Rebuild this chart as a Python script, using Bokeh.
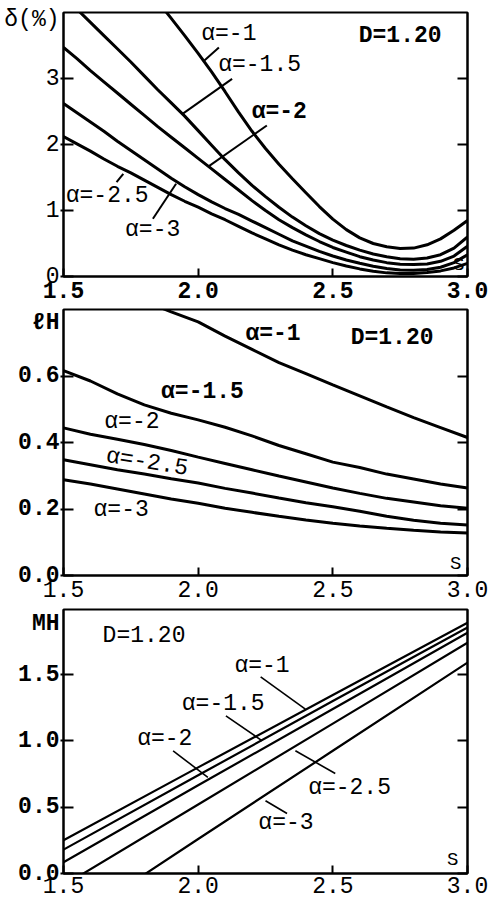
from bokeh.plotting import figure
from bokeh.layouts import column
from bokeh.models import (LinearAxis, FixedTicker, PrintfTickFormatter,
                          CustomJSTickFormatter, Range1d)
from bokeh.core.properties import value
from bokeh.embed import file_html
from bokeh.resources import INLINE

# ---------------- data ----------------
alphas = ["α=-1", "α=-1.5", "α=-2", "α=-2.5", "α=-3"]
x_ticks = [1.5, 2.0, 2.5, 3.0]

# panel 1: delta (%)  (s step 0.05)
s_fine = [1.50, 1.55, 1.60, 1.65, 1.70, 1.75, 1.80, 1.85, 1.90, 1.95, 2.00,
          2.05, 2.10, 2.15, 2.20, 2.25, 2.30, 2.35, 2.40, 2.45, 2.50,
          2.55, 2.60, 2.65, 2.70, 2.75, 2.80, 2.85, 2.90, 2.95, 3.00]
delta_a1 = [5.90, 5.65, 5.40, 5.15, 4.90, 4.66, 4.42, 4.17, 3.91, 3.65, 3.38,
            3.10, 2.80, 2.49, 2.20, 1.94, 1.70, 1.48, 1.27, 1.06, 0.87,
            0.71, 0.585, 0.50, 0.45, 0.425, 0.43, 0.48, 0.57, 0.70, 0.85]
delta_a15 = [4.25, 4.05, 3.85, 3.65, 3.45, 3.25, 3.04, 2.83, 2.63, 2.43, 2.21,
             1.99, 1.77, 1.57, 1.38, 1.21, 1.05, 0.90, 0.77, 0.65, 0.55,
             0.47, 0.40, 0.34, 0.30, 0.27, 0.26, 0.28, 0.33, 0.43, 0.60]
delta_a2 = [3.47, 3.30, 3.12, 2.95, 2.78, 2.61, 2.44, 2.27, 2.11, 1.95, 1.79,
            1.63, 1.47, 1.31, 1.15, 1.00, 0.86, 0.74, 0.63, 0.53, 0.44,
            0.37, 0.30, 0.25, 0.21, 0.185, 0.18, 0.19, 0.23, 0.31, 0.46]
delta_a25 = [2.62, 2.48, 2.34, 2.20, 2.05, 1.91, 1.77, 1.63, 1.49, 1.36, 1.24,
             1.13, 1.03, 0.94, 0.84, 0.74, 0.64, 0.54, 0.46, 0.38, 0.31,
             0.25, 0.20, 0.155, 0.12, 0.10, 0.095, 0.105, 0.14, 0.21, 0.33]
delta_a3 = [2.12, 2.01, 1.90, 1.78, 1.67, 1.57, 1.46, 1.35, 1.24, 1.14, 1.05,
            0.95, 0.86, 0.76, 0.66, 0.57, 0.48, 0.40, 0.33, 0.27, 0.21,
            0.16, 0.115, 0.08, 0.055, 0.045, 0.045, 0.06, 0.085, 0.13, 0.20]
delta_ticks = [0, 1, 2, 3]
delta_labels = ["0", "1", "2", "3"]
delta_name = "δ(%)"

# panel 2: l_H  (s step 0.1)
s_grid = [1.5, 1.6, 1.7, 1.8, 1.9, 2.0, 2.1, 2.2, 2.3, 2.4, 2.5, 2.6, 2.7, 2.8, 2.9, 3.0]
lh_a1 = [0.92, 0.89, 0.855, 0.825, 0.793, 0.763, 0.72, 0.68, 0.64, 0.607, 0.573, 0.54, 0.507, 0.475, 0.445, 0.415]
lh_a15 = [0.616, 0.585, 0.546, 0.513, 0.488, 0.468, 0.446, 0.42, 0.391, 0.366, 0.341, 0.325, 0.305, 0.29, 0.275, 0.263]
lh_a2 = [0.444, 0.425, 0.41, 0.394, 0.376, 0.356, 0.337, 0.318, 0.299, 0.281, 0.263, 0.247, 0.232, 0.221, 0.21, 0.202]
lh_a25 = [0.348, 0.333, 0.318, 0.305, 0.291, 0.278, 0.262, 0.248, 0.233, 0.219, 0.207, 0.193, 0.178, 0.166, 0.157, 0.152]
lh_a3 = [0.288, 0.275, 0.26, 0.245, 0.23, 0.217, 0.202, 0.19, 0.178, 0.167, 0.157, 0.149, 0.142, 0.136, 0.131, 0.128]
lh_ticks = [0.0, 0.2, 0.4, 0.6]
lh_labels = ["0.0", "0.2", "0.4", "0.6"]
lh_name = "ℓH"

# panel 3: M_H
s_m = [1.5, 2.0, 2.5, 3.0]
mh_a1 = [0.25, 0.80, 1.345, 1.89]
mh_a15 = [0.18, 0.74, 1.30, 1.855]
mh_a2 = [0.085, 0.665, 1.24, 1.815]
mh_a25 = [-0.09, 0.52, 1.13, 1.74]
mh_a3 = [-0.41, 0.26, 0.925, 1.59]
mh_ticks = [0.0, 0.5, 1.0, 1.5]
mh_labels = ["0.0", "0.5", "1.0", "1.5"]
mh_name = "MH"

# annotation placements (data coords)
p1_name_y = 3.89
p1_lab_x = [2.114, 2.228, 2.301, 1.662, 1.831]
p1_lab_y = [3.68, 3.20, 2.485, 1.227, 0.712]
p1_lead = dict(x0=[2.077, 2.126, 2.255, 1.722, 1.832], y0=[3.47, 2.995, 2.288, 1.556, 0.874],
               x1=[2.022, 1.942, 2.040, 1.697, 1.918], y1=[3.27, 2.465, 1.672, 1.429, 1.405])
p2_name_y = 0.76
p2_lab_x = [2.278, 2.016, 1.754, 1.81, 1.714]
p2_lab_y = [0.725, 0.553, 0.463, 0.34, 0.198]
p2_lab_angle = [0, 0, 0, -0.16, 0]
p3_name_y = 1.88
p3_lab_x = [2.237, 2.093, 1.876, 2.562, 2.326]
p3_lab_y = [1.567, 1.281, 1.017, 0.648, 0.384]
p3_lead = dict(x0=[2.232, 2.103, 1.907, 2.361, 2.25], y0=[1.482, 1.188, 0.925, 0.925, 0.548],
               x1=[2.398, 2.238, 2.036, 2.509, 2.33], y1=[1.239, 1.0, 0.724, 0.754, 0.452])

MONO = "Liberation Mono"
FS = "23px"
EMPTY = CustomJSTickFormatter(code="return ''")


def make_fig(height, top, bottom, y_end, y_ticks, y_labels, name, name_y,
             y_bold, x_bold, standoff):
    p = figure(width=488, height=height, x_range=Range1d(1.5, 3.0), y_range=Range1d(0, y_end),
               output_backend="svg", toolbar_location=None,
               min_border_left=63, min_border_right=21, min_border_top=top, min_border_bottom=bottom)
    p.grid.visible = False
    p.background_fill_color = "white"
    p.border_fill_color = "white"
    p.outline_line_color = "black"
    p.outline_line_width = 2
    # x axis
    xa = p.xaxis[0]
    xa.axis_line_width = 2
    xa.major_tick_line_width = 2
    xa.minor_tick_in = 0
    xa.minor_tick_out = 0
    xa.ticker = FixedTicker(ticks=x_ticks)
    xa.formatter = PrintfTickFormatter(format="%.1f")
    xa.major_tick_in = 8
    xa.major_tick_out = 0
    xa.major_label_standoff = standoff
    xa.major_label_text_font = MONO
    xa.major_label_text_font_size = FS
    xa.major_label_text_color = "black"
    xa.major_label_text_font_style = "bold" if x_bold else "normal"
    # left axis: line and tick marks only
    ya = p.yaxis[0]
    ya.axis_line_width = 2
    ya.major_tick_line_width = 2
    ya.minor_tick_in = 0
    ya.minor_tick_out = 0
    ya.ticker = FixedTicker(ticks=y_ticks)
    ya.formatter = EMPTY
    ya.major_tick_in = 10
    ya.major_tick_out = 3
    ya.major_label_standoff = 0
    # outer left axis: tick labels plus the quantity name
    overrides = {t: l for t, l in zip(y_ticks, y_labels)}
    overrides[name_y] = name
    lab = LinearAxis(ticker=FixedTicker(ticks=list(y_ticks) + [name_y]),
                     major_label_overrides=overrides,
                     axis_line_color=None, major_tick_in=0, major_tick_out=0,
                     minor_tick_in=0, minor_tick_out=0, major_label_standoff=1,
                     major_label_text_font=MONO, major_label_text_font_size=FS,
                     major_label_text_color="black",
                     major_label_text_font_style="bold" if y_bold else "normal")
    p.add_layout(lab, "left")
    # right axis: inward ticks only
    r = LinearAxis(ticker=FixedTicker(ticks=y_ticks), formatter=EMPTY,
                   major_tick_in=10, major_tick_out=0, minor_tick_in=0, minor_tick_out=0,
                   major_label_standoff=0, axis_line_width=2, major_tick_line_width=2)
    p.add_layout(r, "right")
    return p


def add_texts(p, xs, ys, texts, bold_mask, angles=None, size=FS):
    for i in range(len(texts)):
        p.text(x=[xs[i]], y=[ys[i]], text=[texts[i]], angle=(angles[i] if angles else 0),
               text_font=value(MONO), text_font_size=size,
               text_font_style="bold" if bold_mask[i] else "normal",
               text_align="center", text_baseline="middle", text_color="black")


# ---------- panel 1 ----------
p1 = make_fig(306, 12, 30, 4.0, delta_ticks, delta_labels, delta_name, p1_name_y, False, True, 5)
for ys in (delta_a1, delta_a15, delta_a2, delta_a25, delta_a3):
    p1.line(s_fine, ys, line_color="black", line_width=3)
p1.segment(x0="x0", y0="y0", x1="x1", y1="y1", source=p1_lead, line_color="black", line_width=2)
add_texts(p1, p1_lab_x, p1_lab_y, alphas, [False, False, True, False, False])
add_texts(p1, [2.75], [3.64], ["D=1.20"], [True])
add_texts(p1, [2.967], [0.18], ["S"], [False], size="19px")

# ---------- panel 2 ----------
p2 = make_fig(299, 3, 30, 0.8, lh_ticks, lh_labels, lh_name, p2_name_y, True, False, 5)
for ys in (lh_a1, lh_a15, lh_a2, lh_a25, lh_a3):
    p2.line(s_grid, ys, line_color="black", line_width=3)
add_texts(p2, p2_lab_x, p2_lab_y, alphas, [True, True, False, False, False], angles=p2_lab_angle)
add_texts(p2, [2.72], [0.713], ["D=1.20"], [True])
add_texts(p2, [2.956], [0.035], ["S"], [False], size="19px")

# ---------- panel 3 ----------
p3 = make_fig(294, 4, 26, 1.99, mh_ticks, mh_labels, mh_name, p3_name_y, True, False, 3)
for ys in (mh_a1, mh_a15, mh_a2, mh_a25, mh_a3):
    p3.line(s_m, ys, line_color="black", line_width=2.2)
p3.segment(x0="x0", y0="y0", x1="x1", y1="y1", source=p3_lead, line_color="black", line_width=1.6)
add_texts(p3, p3_lab_x, p3_lab_y, alphas, [False] * 5)
add_texts(p3, [1.799], [1.79], ["D=1.20"], [False])
add_texts(p3, [2.945], [0.1], ["S"], [False], size="19px")

layout = column(p1, p2, p3, spacing=0)
open("out.html", "w").write(file_html(layout, INLINE))
